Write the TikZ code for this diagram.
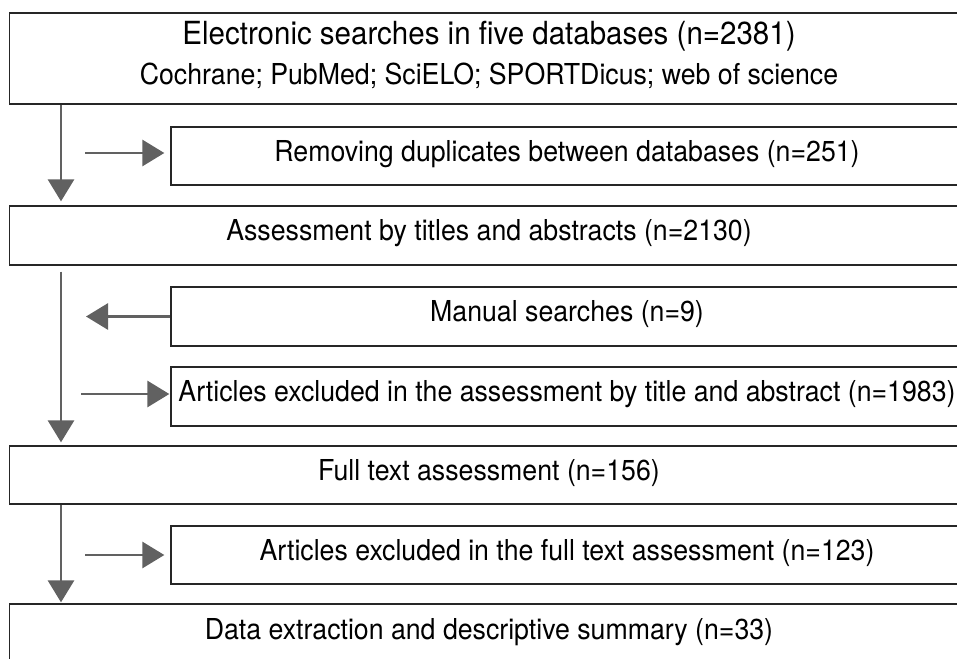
\documentclass[tikz,border=0pt]{standalone}
\usepackage{fontspec}
\usepackage{graphicx}
\setmainfont{TeX Gyre Heros}
\usetikzlibrary{arrows.meta}
\newcommand{\bodyfont}{\fontsize{26.7}{30}\selectfont}
\newcommand{\titlefont}{\fontsize{29.5}{34}\selectfont}
% text set slightly taller than the font's natural proportions
\newcommand{\tall}[1]{\scalebox{1}[1.08]{#1}}
\tikzset{
  box/.style={draw=black!85, line width=1.3pt, inner sep=0pt,
    minimum height=58pt, text height=22pt, text depth=12pt, font=\bodyfont},
  bigbox/.style={box, minimum width=959pt},
  sidebox/.style={box, minimum width=792pt},
  flow/.style={draw=black!62, line width=2.9pt,
    -{Triangle[length=22pt,width=26pt]}},
}
\begin{document}
\begin{tikzpicture}[x=1pt, y=-1pt]
  \useasboundingbox (0,0) rectangle (957,658);
  \clip (0,0) rectangle (957,658);

  % main stages (full width) and side stages (indented)
  \node[bigbox, minimum height=91pt] (search) at (489,58.5) {};
  \node[anchor=base, font=\titlefont] (searchtitle) at (489,45)
    {\tall{Electronic searches in five databases (n=2381)}};
  \node[anchor=base, font=\bodyfont] (searchdbs) at (489,85)
    {\tall{Cochrane; PubMed; SciELO; SPORTDicus; web of science}};

  \node[sidebox] (dedup) at (567,156)
    {\tall{Removing duplicates between databases (n=251)}};
  \node[bigbox, minimum height=59pt] (screen) at (489,235.5)
    {\tall{Assessment by titles and abstracts (n=2130)}};
  \node[sidebox, minimum height=59pt] (manual) at (567,316.5)
    {\tall{Manual searches (n=9)}};
  \node[sidebox, minimum height=59pt] (excl1) at (567,396.5)
    {\tall{Articles excluded in the assessment by title and abstract (n=1983)}};
  \node[bigbox] (fulltext) at (489,475)
    {\tall{Full text assessment (n=156)}};
  \node[sidebox] (excl2) at (567,555)
    {\tall{Articles excluded in the full text assessment (n=123)}};
  \node[bigbox, minimum height=60pt] (final) at (489,634)
    {\tall{Data extraction and descriptive summary (n=33)}};

  % vertical flow along the left rail
  \coordinate (rail) at (61,0);
  \draw[flow, shorten >=4pt] (search.south -| rail) -- (screen.north -| rail);
  \draw[flow, shorten <=6pt, shorten >=3pt] (screen.south -| rail) -- (fulltext.north -| rail);
  \draw[flow, shorten >=1pt] (fulltext.south -| rail) -- (final.north -| rail);

  % side branches
  \coordinate (h1) at (85,153);
  \draw[flow, shorten >=6pt] (h1) -- (h1 -| dedup.west);
  \coordinate (h2) at (86,316.5);
  \draw[flow] (manual.west) -- (h2);
  \coordinate (h3) at (81,394);
  \draw[flow, shorten >=1pt] (h3) -- (h3 -| excl1.west);
  \coordinate (h4) at (85,555);
  \draw[flow, shorten >=6pt] (h4) -- (h4 -| excl2.west);
\end{tikzpicture}
\end{document}
